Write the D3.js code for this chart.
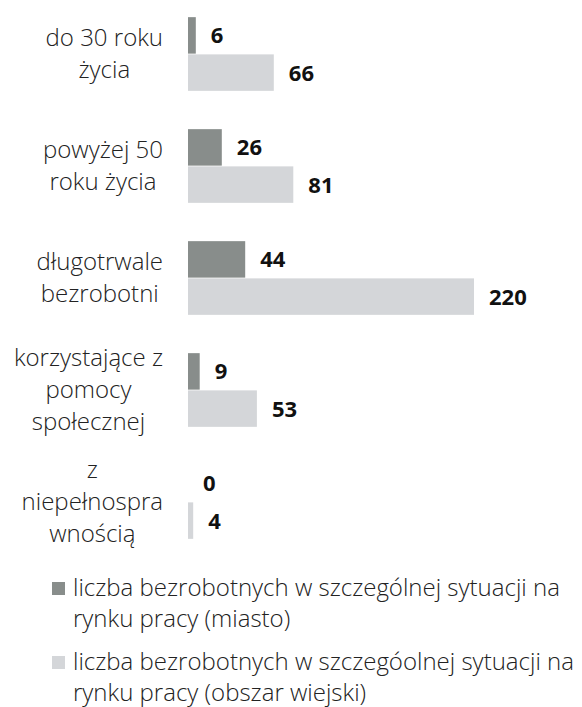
<!DOCTYPE html>
<html>
<head>
<meta charset="utf-8">
<script src="https://cdn.jsdelivr.net/npm/d3@7/dist/d3.min.js"></script>
<style>
  html, body { margin: 0; padding: 0; background: #ffffff; }
  svg { display: block; }
</style>
</head>
<body>
<svg id="chart" width="582" height="707"></svg>
<script>
// ---- data ----
const categories = [
  "do 30 roku życia",
  "powyżej 50 roku życia",
  "długotrwale bezrobotni",
  "korzystające z pomocy społecznej",
  "z niepełnosprawnością"
];
const categoryLines = [
  ["do 30 roku", "życia"],
  ["powyżej 50", "roku życia"],
  ["długotrwale", "bezrobotni"],
  ["korzystające z", "pomocy", "społecznej"],
  ["z", "niepełnospra", "wnością"]
];
const seriesKeys = ["miasto", "wies"];
const miastoValues = [6, 26, 44, 9, 0];
const wiesValues = [66, 81, 220, 53, 4];
const legendLines = [
  ["liczba bezrobotnych w szczególnej sytuacji na", "rynku pracy (miasto)"],
  ["liczba bezrobotnych w szczegóolnej sytuacji na", "rynku pracy (obszar wiejski)"]
];

// ---- layout ----
const svg = d3.select("#chart");
const colors = d3.scaleOrdinal().domain(seriesKeys).range(["#888d8b", "#d4d6d9"]);
const FONT = "'Open Sans', 'Noto Sans', sans-serif";

const x = d3.scaleLinear().domain([0, 220]).range([188, 474]);
const y0 = d3.scaleBand().domain(categories).range([-2, 558]).paddingInner(0.342).paddingOuter(0.171);
const y1 = d3.scaleBand().domain(seriesKeys).range([0, y0.bandwidth()]).paddingInner(0.02);

const rows = categories.map((c, i) => ({
  cat: c,
  lines: categoryLines[i],
  values: [
    { key: "miasto", value: miastoValues[i] },
    { key: "wies", value: wiesValues[i] }
  ]
}));

const g = svg.append("g");
const groups = g.selectAll("g.cat").data(rows).join("g")
  .attr("class", "cat")
  .attr("transform", d => `translate(0,${y0(d.cat)})`);

groups.selectAll("rect").data(d => d.values).join("rect")
  .attr("x", x(0))
  .attr("y", d => y1(d.key))
  .attr("width", d => x(d.value) - x(0))
  .attr("height", y1.bandwidth())
  .attr("fill", d => colors(d.key));

groups.selectAll("text.val").data(d => d.values).join("text")
  .attr("class", "val")
  .attr("x", d => x(d.value) + 15)
  .attr("y", d => y1(d.key) + y1.bandwidth() / 2)
  .attr("dy", "0.36em")
  .attr("font-family", FONT)
  .attr("font-weight", 700)
  .attr("font-size", 22)
  .attr("fill", "#111")
  .text(d => d.value);

// category labels: lines centred within a block right-aligned near the axis
const labelRight = 163;
const lineH = 32;
groups.each(function(d) {
  const grp = d3.select(this);
  const cy = y0.bandwidth() / 2;
  const n = d.lines.length;
  const t = grp.append("text")
    .attr("font-family", FONT)
    .attr("font-weight", 300)
    .attr("font-size", 24)
    .attr("fill", "#222")
    .attr("text-anchor", "middle");
  const spans = t.selectAll("tspan").data(d.lines).join("tspan")
    .attr("y", (l, i) => cy + (i - (n - 1) / 2) * lineH)
    .attr("dy", "0.35em")
    .text(l => l);
  let maxW = 0;
  spans.each(function() { maxW = Math.max(maxW, this.getComputedTextLength()); });
  spans.attr("x", labelRight - maxW / 2);
});

// legend
const legend = svg.append("g");
const legendTop = [596, 670];
const legendItems = legend.selectAll("g").data(seriesKeys).join("g")
  .attr("transform", (k, i) => `translate(0,${legendTop[i]})`);
legendItems.append("rect")
  .attr("x", 52).attr("y", -14)
  .attr("width", 13).attr("height", 13)
  .attr("fill", k => colors(k));
legendItems.append("text")
  .attr("font-family", FONT)
  .attr("font-weight", 300)
  .attr("font-size", 24)
  .attr("fill", "#222")
  .selectAll("tspan").data((k, i) => legendLines[i]).join("tspan")
  .attr("x", 73)
  .attr("y", (l, i) => i * 31)
  .text(l => l);
</script>
</body>
</html>
